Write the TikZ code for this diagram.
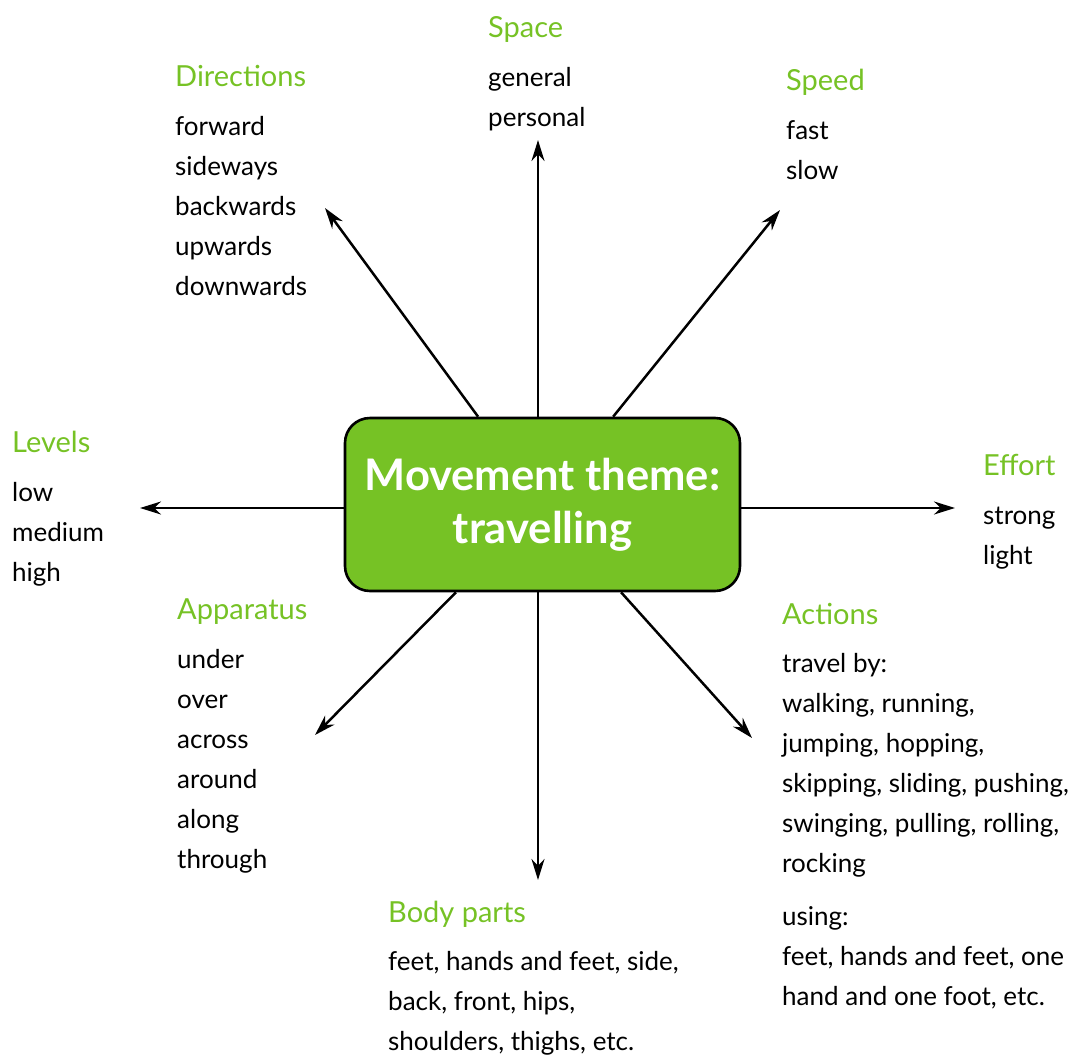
\documentclass[tikz,border=0pt]{standalone}
\usepackage{fontspec}
\setmainfont{Lato}
\usetikzlibrary{arrows.meta}
\definecolor{themegreen}{RGB}{118,194,37}
\tikzset{
  ttl/.style={anchor=base west, inner sep=0pt, text=themegreen, font=\fontsize{29}{35}\selectfont},
  bodytxt/.style={anchor=base west, inner sep=0pt, font=\fontsize{26}{40}\selectfont},
  arr/.style={line width=2.5pt, -{Stealth[length=21pt,width=13pt]}},
}
\newcommand{\lines}[1]{\begin{tabular}[t]{@{}l@{}}#1\end{tabular}}
\begin{document}
\begin{tikzpicture}[x=1pt,y=-1pt]
\useasboundingbox (0,0) rectangle (1071,1055);
% arrow end points
\coordinate (eN) at (538,140);
\coordinate (eS) at (538,880);
\coordinate (eW) at (140,508);
\coordinate (eE) at (955,508);
\coordinate (eNW) at (325,208);
\coordinate (eNE) at (780,210);
\coordinate (eSW) at (315,735);
\coordinate (eSE) at (752,738);
\node[draw, line width=2.6pt, fill=themegreen, rounded corners=25pt,
      minimum width=395pt, minimum height=173pt, inner sep=0pt,
      text=white, align=center, font=\fontsize{43.5}{53}\selectfont\bfseries]
  (box) at (542.5,504.5) {Movement theme:\\travelling};
\draw[arr] (box.north -| eN) -- (eN);
\draw[arr] (box.south -| eS) -- (eS);
\draw[arr] (box.west |- eW) -- (eW);
\draw[arr] (box.east |- eE) -- (eE);
\draw[arr] (box) -- (eNW);
\draw[arr] (box) -- (eNE);
\draw[arr] (box) -- (eSW);
\draw[arr] (box) -- (eSE);
% Space
\node[ttl] (tSpace) at (488,37) {Space};
\node[bodytxt] (bSpace) at (488,86) {\lines{general\\personal}};
% Directions
\node[ttl] (tDir) at (175,86) {Directions};
\node[bodytxt] (bDir) at (175,135) {\lines{forward\\sideways\\backwards\\upwards\\downwards}};
% Speed
\node[ttl] (tSpeed) at (786,90) {Speed};
\node[bodytxt] (bSpeed) at (786,139) {\lines{fast\\slow}};
% Levels
\node[ttl] (tLev) at (12,452) {Levels};
\node[bodytxt] (bLev) at (12,501) {\lines{low\\medium\\high}};
% Effort
\node[ttl] (tEff) at (983,475) {Effort};
\node[bodytxt] (bEff) at (983,524) {\lines{strong\\light}};
% Apparatus
\node[ttl] (tApp) at (177,619) {Apparatus};
\node[bodytxt] (bApp) at (177,668) {\lines{under\\over\\across\\around\\along\\through}};
% Actions
\node[ttl] (tAct) at (782,624) {Actions};
\node[bodytxt] (bAct) at (782,672) {\lines{travel by:\\walking, running,\\jumping, hopping,\\skipping, sliding, pushing,\\swinging, pulling, rolling,\\rocking\\[13pt]using:\\feet, hands and feet, one\\hand and one foot, etc.}};
% Body parts
\node[ttl] (tBody) at (388,922) {Body parts};
\node[bodytxt] (bBody) at (388,970) {\lines{feet, hands and feet, side,\\back, front, hips,\\shoulders, thighs, etc.}};
\end{tikzpicture}
\end{document}
